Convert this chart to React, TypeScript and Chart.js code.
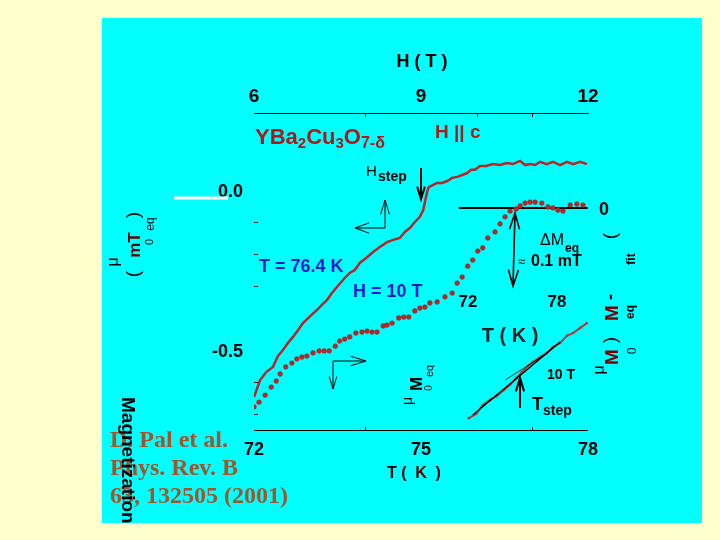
import React, { useEffect, useRef } from "react";
import { Chart, registerables } from "chart.js";

Chart.register(...registerables);

// Magnetization vs field (top axis, H in tesla) at T = 76.4 K
const fieldH = [6.0, 6.11, 6.22, 6.34, 6.43, 6.52, 6.61, 6.7, 6.79, 6.88, 7.01, 7.13, 7.22, 7.31, 7.4, 7.49, 7.63, 7.72, 7.81, 7.9, 8.01, 8.14, 8.26, 8.39, 8.5, 8.62, 8.71, 8.8, 8.89, 8.98, 9.04, 9.07, 9.11, 9.14, 9.22, 9.29, 9.38, 9.47, 9.56, 9.65, 9.74, 9.83, 9.9, 9.97, 10.06, 10.17, 10.29, 10.42, 10.54, 10.65, 10.78, 10.87, 10.96, 11.05, 11.14, 11.26, 11.37, 11.5, 11.62, 11.73, 11.86, 11.98];
const fieldM = [-0.647, -0.594, -0.569, -0.553, -0.519, -0.5, -0.478, -0.459, -0.438, -0.416, -0.394, -0.375, -0.359, -0.344, -0.322, -0.303, -0.275, -0.259, -0.25, -0.228, -0.213, -0.194, -0.178, -0.163, -0.156, -0.15, -0.131, -0.119, -0.1, -0.084, -0.063, -0.038, -0.006, 0.009, 0.016, 0.022, 0.022, 0.028, 0.038, 0.041, 0.047, 0.053, 0.063, 0.063, 0.075, 0.075, 0.081, 0.078, 0.084, 0.081, 0.091, 0.078, 0.081, 0.078, 0.088, 0.081, 0.088, 0.078, 0.088, 0.081, 0.088, 0.081];

// Magnetization vs temperature (bottom axis, T in kelvin) at H = 10 T
const tempT = [72.0, 72.09, 72.2, 72.31, 72.4, 72.47, 72.57, 72.68, 72.77, 72.86, 72.95, 73.06, 73.17, 73.26, 73.35, 73.46, 73.54, 73.63, 73.72, 73.83, 73.94, 74.03, 74.12, 74.21, 74.32, 74.39, 74.48, 74.6, 74.69, 74.78, 74.89, 74.98, 75.07, 75.16, 75.29, 75.43, 75.56, 75.65, 75.74, 75.84, 75.93, 76.02, 76.11, 76.2, 76.33, 76.42, 76.51, 76.6, 76.71, 76.78, 76.87, 76.96, 77.05, 77.17, 77.28, 77.37, 77.46, 77.55, 77.68, 77.8, 77.91];
const tempM = [-0.678, -0.663, -0.641, -0.616, -0.597, -0.575, -0.553, -0.541, -0.528, -0.522, -0.519, -0.509, -0.503, -0.503, -0.503, -0.488, -0.472, -0.466, -0.459, -0.447, -0.444, -0.441, -0.444, -0.444, -0.425, -0.422, -0.416, -0.4, -0.397, -0.397, -0.378, -0.369, -0.366, -0.353, -0.35, -0.334, -0.322, -0.291, -0.272, -0.238, -0.219, -0.191, -0.181, -0.15, -0.131, -0.106, -0.084, -0.066, -0.059, -0.05, -0.041, -0.038, -0.038, -0.041, -0.053, -0.056, -0.063, -0.066, -0.047, -0.044, -0.047];

// Lower inset: equilibrium magnetization around T_step (10 T)
const stepT = [75.86, 75.99, 76.11, 76.24, 76.36, 76.49, 76.6, 76.71, 76.81, 76.92, 77.01, 77.14, 77.26, 77.37, 77.5, 77.62, 77.73, 77.86, 77.98];
const stepM = [-0.713, -0.7, -0.672, -0.656, -0.644, -0.625, -0.609, -0.588, -0.569, -0.55, -0.538, -0.522, -0.509, -0.491, -0.478, -0.456, -0.447, -0.431, -0.416];

// Linear fits in the lower inset
const fitT = [75.93, 77.5];
const fitM = [-0.703, -0.475];
const fit2T = [76.51, 77.28];
const fit2M = [-0.594, -0.509];

// Upper inset zero line
const zeroT = [75.68, 78.05];
const zeroM = [-0.056, -0.056];

// Axis ticks
const bottomLabels = [72, 75, 78];
const bottomMinor = [74, 77];
const topLabels = [6, 9, 12];
const topMinor = [8, 10, 11];
const leftLabels = [0.0, -0.5];
const leftMinor = [-0.1, -0.2, -0.3, -0.6, -0.7];
const insetLabels = [72, 78];

const SANS = '"Liberation Sans", Arial, sans-serif';
const SERIF = '"Liberation Serif", "Times New Roman", serif';

const pts = (xs: number[], ys: number[]) => xs.map((x, i) => ({ x, y: ys[i] }));

function txt(ctx: CanvasRenderingContext2D, s: string, x: number, y: number, font: string, color: string, align: CanvasTextAlign = "center", baseline: CanvasTextBaseline = "middle") {
  ctx.save();
  ctx.font = font;
  ctx.fillStyle = color;
  ctx.textAlign = align;
  ctx.textBaseline = baseline;
  ctx.fillText(s, x, y);
  ctx.restore();
}

function rot(ctx: CanvasRenderingContext2D, s: string, x: number, y: number, font: string, color: string, angle: number, align: CanvasTextAlign = "center") {
  ctx.save();
  ctx.translate(x, y);
  ctx.rotate(angle);
  ctx.font = font;
  ctx.fillStyle = color;
  ctx.textAlign = align;
  ctx.textBaseline = "middle";
  ctx.fillText(s, 0, 0);
  ctx.restore();
}

function arrow(ctx: CanvasRenderingContext2D, x1: number, y1: number, x2: number, y2: number, head: number, spread: number, lw: number, both = false) {
  ctx.save();
  ctx.strokeStyle = "#000";
  ctx.lineWidth = lw;
  ctx.beginPath();
  ctx.moveTo(x1, y1);
  ctx.lineTo(x2, y2);
  const drawHead = (xa: number, ya: number, xb: number, yb: number) => {
    const a = Math.atan2(yb - ya, xb - xa);
    ctx.moveTo(xb - head * Math.cos(a - spread), yb - head * Math.sin(a - spread));
    ctx.lineTo(xb, yb);
    ctx.lineTo(xb - head * Math.cos(a + spread), yb - head * Math.sin(a + spread));
  };
  drawHead(x1, y1, x2, y2);
  if (both) drawHead(x2, y2, x1, y1);
  ctx.stroke();
  ctx.restore();
}

const decor = {
  id: "decor",
  beforeDraw(chart: any) {
    const ctx = chart.ctx as CanvasRenderingContext2D;
    ctx.save();
    ctx.fillStyle = "#FFFFCC";
    ctx.fillRect(0, 0, 720, 540);
    ctx.fillStyle = "#00FFFF";
    ctx.fillRect(102, 18, 600, 505);
    ctx.restore();
  },
  afterDatasetsDraw(chart: any) {
    const ctx = chart.ctx as CanvasRenderingContext2D;
    const xs = chart.scales.x;
    const xh = chart.scales.xH;
    const ys = chart.scales.y;
    const B = (n: number) => `bold ${n}px ${SANS}`;
    const N = (n: number) => `${n}px ${SANS}`;

    // top H axis
    const topY = 113;
    ctx.save();
    ctx.strokeStyle = "#000";
    ctx.lineWidth = 1;
    ctx.beginPath();
    ctx.moveTo(xh.getPixelForValue(6), topY + 0.5);
    ctx.lineTo(xh.getPixelForValue(12) + 1, topY + 0.5);
    topMinor.forEach((v) => {
      const p = Math.round(xh.getPixelForValue(v)) + 0.5;
      ctx.moveTo(p, topY);
      ctx.lineTo(p, topY + 4);
    });
    ctx.stroke();
    ctx.restore();
    topLabels.forEach((v) => txt(ctx, String(v), xh.getPixelForValue(v), 97, B(19), "#000"));
    txt(ctx, "H ( T )", 422, 62, B(18), "#000");

    // bottom T axis
    const botY = 430;
    ctx.save();
    ctx.strokeStyle = "#000";
    ctx.lineWidth = 1;
    ctx.beginPath();
    ctx.moveTo(xs.getPixelForValue(72), botY + 0.5);
    ctx.lineTo(xs.getPixelForValue(78), botY + 0.5);
    bottomMinor.forEach((v) => {
      const p = Math.round(xs.getPixelForValue(v)) + 0.5;
      ctx.moveTo(p, botY);
      ctx.lineTo(p, botY - 3);
    });
    ctx.stroke();
    ctx.restore();
    bottomLabels.forEach((v) => txt(ctx, String(v), xs.getPixelForValue(v), 450, B(18), "#000"));
    txt(ctx, "T ( ", 411, 474, B(16), "#000", "right");
    txt(ctx, "K", 421, 474, B(16), "#5a0000");
    txt(ctx, " )", 431, 474, B(16), "#000", "left");

    // left main axis: small tick dashes and labels
    ctx.save();
    ctx.strokeStyle = "#000";
    ctx.lineWidth = 1;
    ctx.beginPath();
    leftMinor.forEach((v) => {
      const p = Math.round(ys.getPixelForValue(v)) + 0.5;
      ctx.moveTo(254, p);
      ctx.lineTo(258, p);
    });
    ctx.stroke();
    ctx.restore();
    leftLabels.forEach((v) => txt(ctx, v === 0 ? "0.0" : v.toFixed(1), 243, ys.getPixelForValue(v) + 2, B(18), "#000", "right"));
    ctx.save();
    ctx.strokeStyle = "#FFFFFF";
    ctx.lineWidth = 3;
    ctx.beginPath();
    ctx.moveTo(174, 198);
    ctx.lineTo(228, 198);
    ctx.stroke();
    ctx.restore();

    // left rotated label pieces
    const L = -Math.PI / 2;
    rot(ctx, "(", 134, 274, N(19), "#000", L);
    rot(ctx, "\u03bc", 114, 262, N(16), "#000", L);
    rot(ctx, "mT", 135, 245, B(17), "#6a0000", L);
    rot(ctx, "0", 150, 242, N(11), "#000", L);
    rot(ctx, "eq", 151, 224, N(12), "#000", L);
    rot(ctx, ")", 134, 215, N(19), "#000", L);

    // sample / field labels
    const red = "#b01818";
    let cx = 255;
    const base = 144;
    const piece = (s: string, size: number, dy: number) => {
      ctx.save();
      ctx.font = B(size);
      ctx.fillStyle = red;
      ctx.textAlign = "left";
      ctx.textBaseline = "alphabetic";
      ctx.fillText(s, cx, base + dy);
      cx += ctx.measureText(s).width;
      ctx.restore();
    };
    piece("YBa", 22, 0);
    piece("2", 15, 4);
    piece("Cu", 22, 0);
    piece("3", 15, 4);
    piece("O", 22, 0);
    piece("7-\u03b4", 16, 4);
    txt(ctx, "H || c", 435, 138, B(19), red, "left", "alphabetic");

    txt(ctx, "H", 366, 176, N(15), "#000", "left", "alphabetic");
    txt(ctx, "step", 378, 181, B(14), "#000", "left", "alphabetic");
    arrow(ctx, 421, 168, 421, 199, 13, 0.3, 2);

    txt(ctx, "T = 76.4 K", 259, 267, B(18), "#1a1ad0", "left");
    txt(ctx, "H = 10 T", 353, 292, B(18), "#1a1ad0", "left");

    // coordinate glyphs
    arrow(ctx, 385, 228, 385, 200, 15, 0.3, 1);
    arrow(ctx, 385, 228, 355, 228, 15, 0.35, 1);
    arrow(ctx, 333, 361, 366, 361, 16, 0.3, 1);
    arrow(ctx, 333, 361, 333, 389, 13, 0.3, 1);

    // upper inset
    txt(ctx, "0", 604, 210, B(18), "#000");
    insetLabels.forEach((v, i) => txt(ctx, String(v), i === 0 ? 468 : 557, 302, B(17), "#000"));
    txt(ctx, "T ( K )", 510, 336, B(20), "#222");
    arrow(ctx, 513, 286, 515, 213, 17, 0.3, 1.6, true);
    txt(ctx, "\u0394M", 540, 245, N(16), "#000", "left", "alphabetic");
    txt(ctx, "eq", 565, 252, B(12), "#000", "left", "alphabetic");
    txt(ctx, "\u2248", 518, 266, N(13), "#000", "left", "alphabetic");
    txt(ctx, "0.1 mT", 531, 266, B(16), "#000", "left", "alphabetic");

    // right rotated label pieces
    rot(ctx, "(", 611, 236, N(19), "#000", L);
    rot(ctx, "fit", 632, 259, B(12), "#000", L);
    rot(ctx, "-", 611, 297, B(18), "#000", L);
    rot(ctx, "M", 613, 313, B(19), "#7a0000", L);
    rot(ctx, "eq", 631, 312, B(12), "#000", L);
    rot(ctx, ")", 611, 340, N(19), "#000", L);
    rot(ctx, "M", 613, 357, B(19), "#7a0000", L);
    rot(ctx, "0", 633, 351, N(12), "#000", L);
    rot(ctx, "\u03bc", 600, 370, N(16), "#000", L);

    // lower inset labels
    txt(ctx, "10 T", 547, 379, B(14), "#000", "left", "alphabetic");
    arrow(ctx, 520, 408, 520, 378, 14, 0.3, 2);
    txt(ctx, "T", 532, 410, B(18), "#000", "left", "alphabetic");
    txt(ctx, "step", 543, 415, B(14), "#000", "left", "alphabetic");
    rot(ctx, "\u03bc", 408, 401, N(14), "#000", L);
    rot(ctx, "M", 417, 384, B(17), "#000", L);
    rot(ctx, "0", 429, 388, N(10), "#000", L);
    rot(ctx, "eq", 430, 371, N(11), "#000", L);

    // citation
    ctx.save();
    ctx.font = `bold 24px ${SERIF}`;
    ctx.fillStyle = "#a4532b";
    ctx.textAlign = "left";
    ctx.textBaseline = "alphabetic";
    ctx.fillText("D. Pal et al.", 110, 447);
    ctx.fillText("Phys. Rev. B", 110, 475);
    ctx.fillText("63, 132505 (2001)", 110, 503);
    ctx.restore();

    // Magnetization label, clipped to the panel
    ctx.save();
    ctx.beginPath();
    ctx.rect(102, 18, 600, 505);
    ctx.clip();
    rot(ctx, "Magnetization", 127, 397, B(19), "#000", Math.PI / 2, "left");
    ctx.restore();
  },
};

export default function App() {
  const ref = useRef<HTMLCanvasElement | null>(null);
  useEffect(() => {
    if (!ref.current) return;
    const chart = new Chart(ref.current, {
      type: "scatter",
      data: {
        datasets: [
          {
            data: pts(tempT, tempM),
            xAxisID: "x",
            yAxisID: "y",
            showLine: false,
            pointRadius: 2.4,
            pointBackgroundColor: "#b82828",
            pointBorderColor: "#9a1c1c",
            pointBorderWidth: 0.5,
            order: 1,
          },
          {
            data: pts(fieldH, fieldM),
            xAxisID: "xH",
            yAxisID: "y",
            showLine: true,
            borderColor: "#bc2226",
            borderWidth: 2.5,
            pointRadius: 0,
            tension: 0,
            order: 2,
          },
          {
            data: pts(fitT, fitM),
            xAxisID: "x",
            yAxisID: "y",
            showLine: true,
            borderColor: "#000",
            borderWidth: 1.3,
            pointRadius: 0,
            order: 3,
          },
          {
            data: pts(fit2T, fit2M),
            xAxisID: "x",
            yAxisID: "y",
            showLine: true,
            borderColor: "#000",
            borderWidth: 0.8,
            pointRadius: 0,
            order: 4,
          },
          {
            data: pts(stepT, stepM),
            xAxisID: "x",
            yAxisID: "y",
            showLine: true,
            borderColor: "#b03c3c",
            borderWidth: 2,
            pointRadius: 1.3,
            pointBackgroundColor: "#b03c3c",
            pointBorderWidth: 0,
            order: 5,
          },
          {
            data: pts(zeroT, zeroM),
            xAxisID: "x",
            yAxisID: "y",
            showLine: true,
            borderColor: "#000",
            borderWidth: 2,
            pointRadius: 0,
            order: 6,
          },
        ],
      },
      options: {
        responsive: false,
        animation: false,
        events: [],
        layout: { padding: { left: 254, right: 132, top: 126, bottom: 110 } },
        plugins: { legend: { display: false }, tooltip: { enabled: false } },
        scales: {
          x: { type: "linear", min: 72, max: 78, display: false },
          xH: { type: "linear", min: 6, max: 12, display: false, position: "top" },
          y: { type: "linear", min: -0.75, max: 0.2, display: false },
        },
      },
      plugins: [decor],
    });
    return () => chart.destroy();
  }, []);
  return (
    <div style={{ position: "fixed", left: 0, top: 0, width: 720, height: 540 }}>
      <canvas ref={ref} width={720} height={540} style={{ width: 720, height: 540, display: "block" }} />
    </div>
  );
}
